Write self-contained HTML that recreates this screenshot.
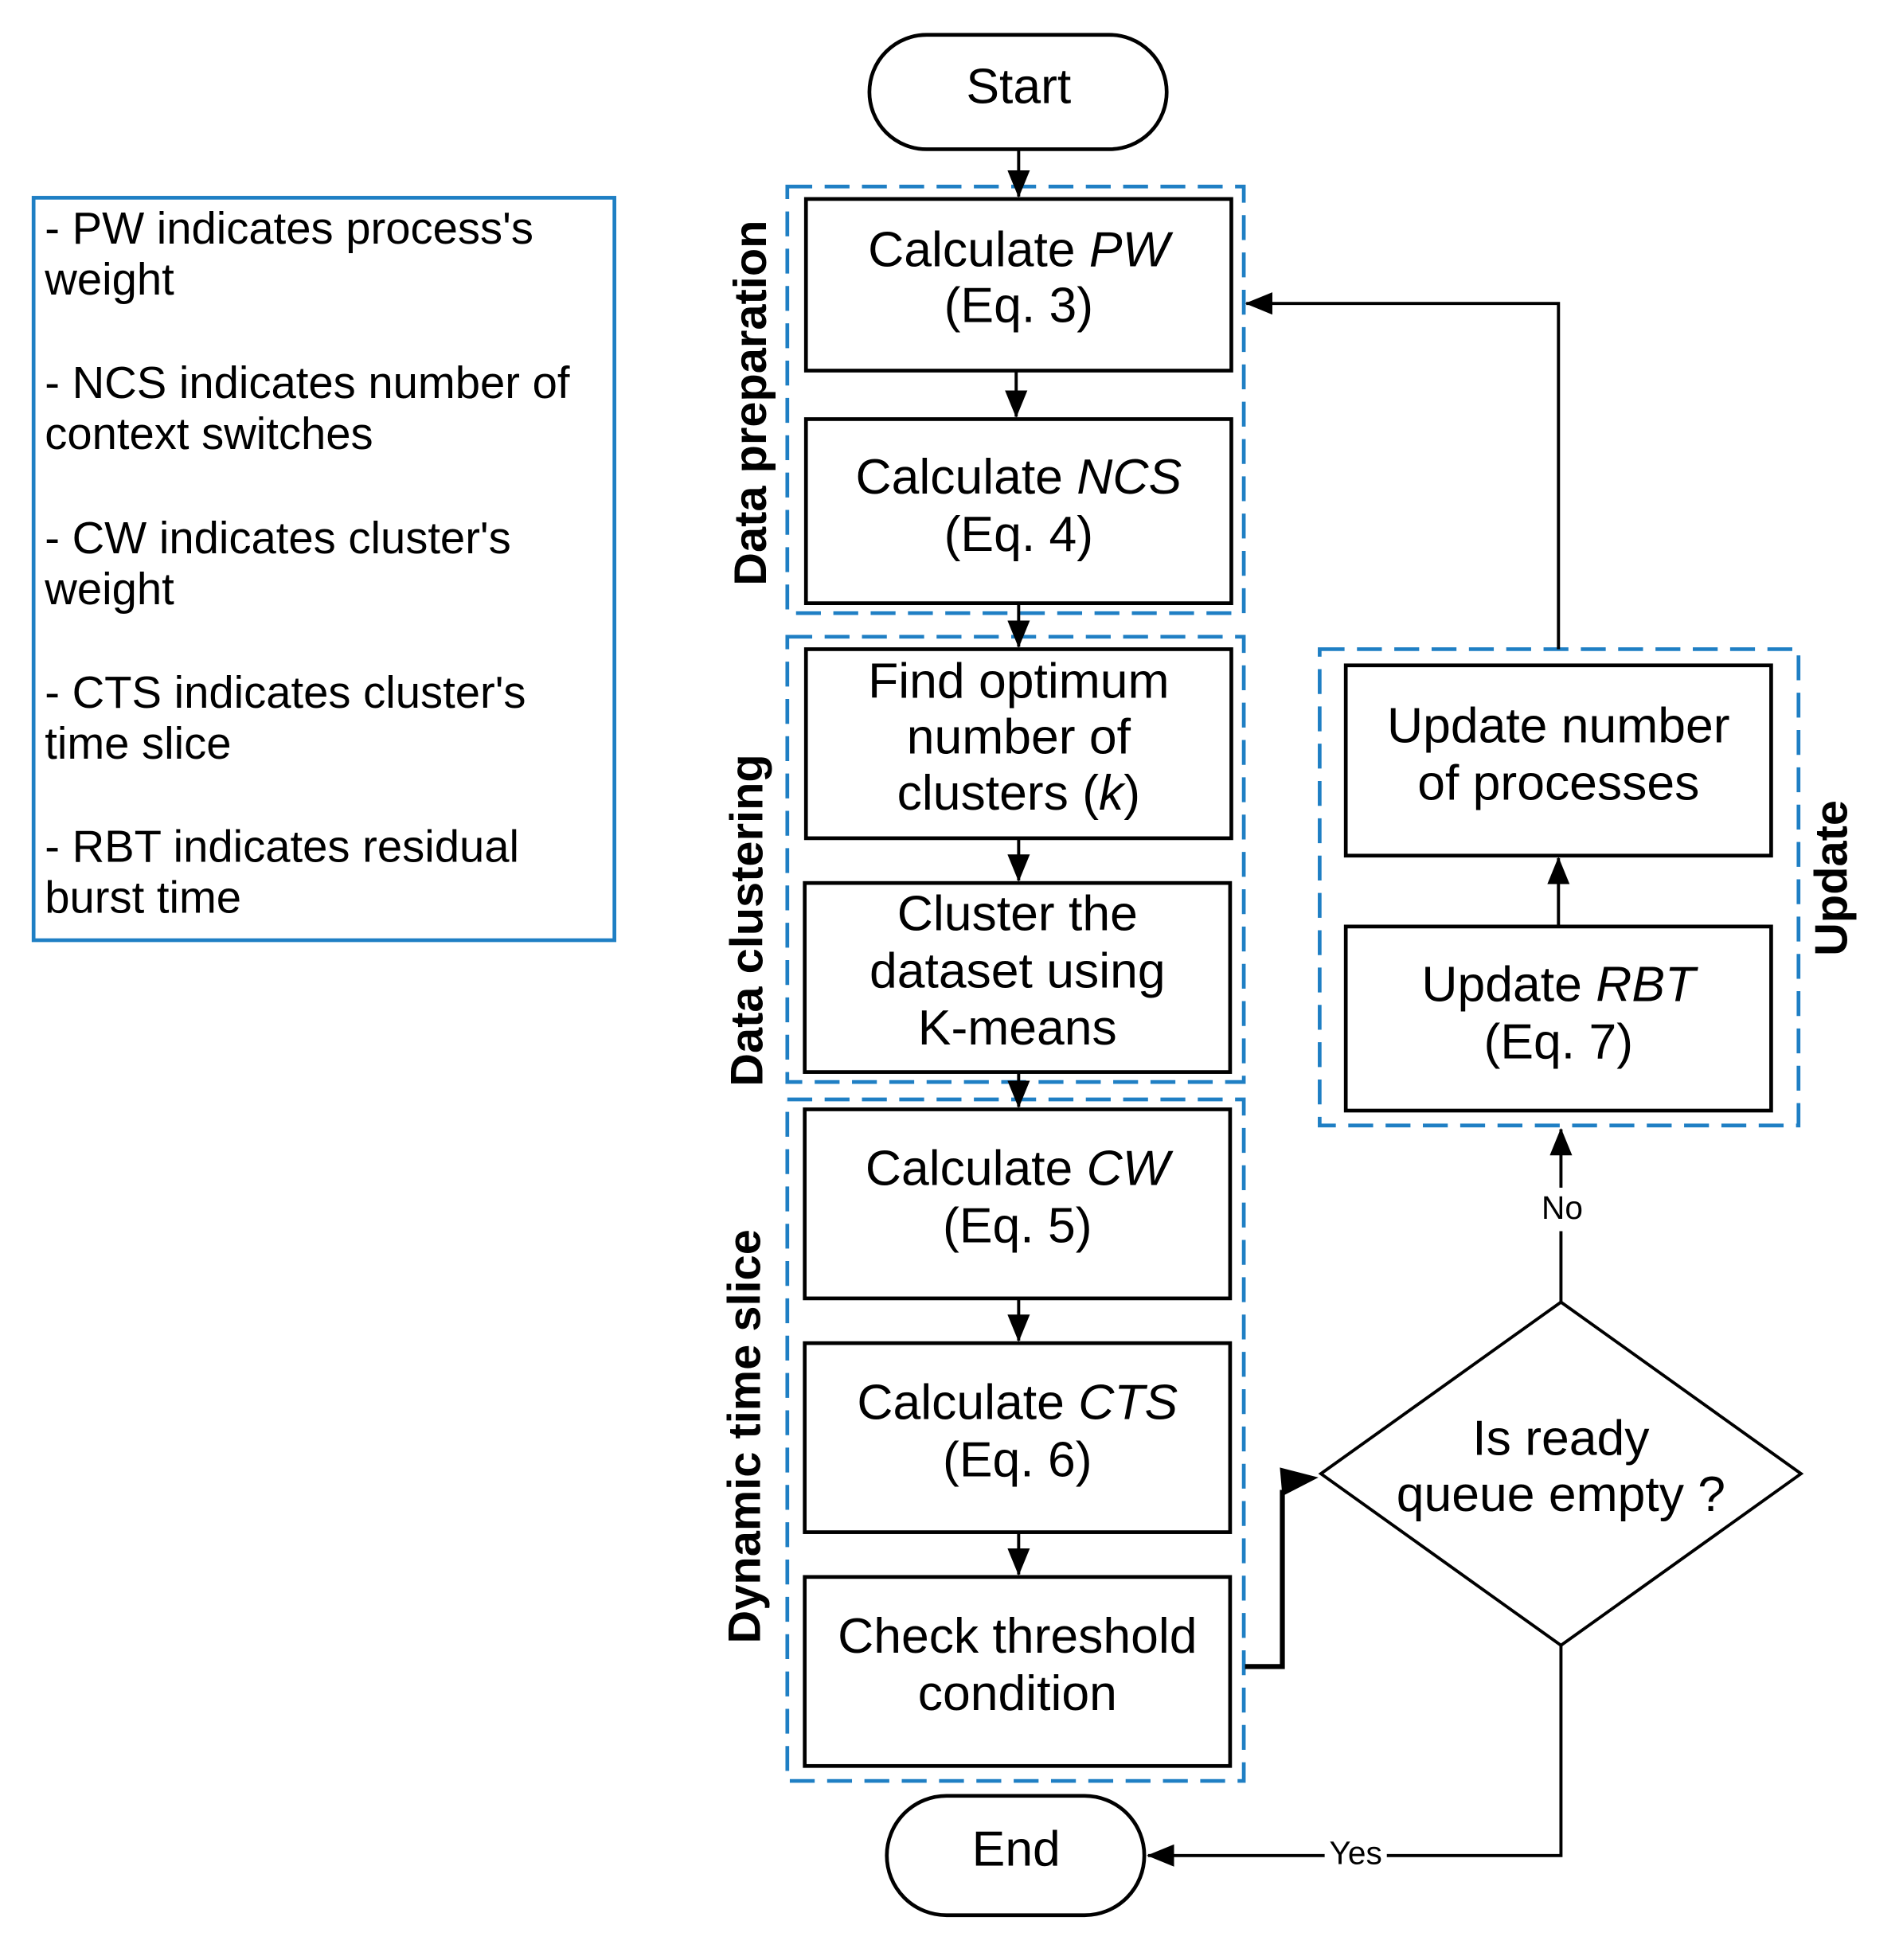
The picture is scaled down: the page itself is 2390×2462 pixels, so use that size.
<!DOCTYPE html>
<html><head><meta charset="utf-8"><style>
html,body{margin:0;padding:0;background:#fff;}
svg{display:block;}
text{font-family:"Liberation Sans",Arial,sans-serif;fill:#000;}
.n{font-size:40px;text-anchor:middle;}
.l{font-size:36px;}
.r{font-size:37px;font-weight:bold;text-anchor:middle;}
.b{fill:#fff;stroke:#000;stroke-width:3;}
.d{fill:none;stroke:#1f7fc4;stroke-width:3;stroke-dasharray:20,10;}
.c{fill:none;stroke:#000;stroke-width:2.5;}
</style></head><body>
<svg width="2390" height="2462" viewBox="0 0 1530 1576" preserveAspectRatio="none" xmlns="http://www.w3.org/2000/svg">
<defs>
<marker id="m" markerWidth="22" markerHeight="18" refX="21" refY="9" orient="auto" markerUnits="userSpaceOnUse"><path d="M0,0 L22,9 L0,18 z" fill="#000"/></marker></defs>

<!-- legend -->
<rect x="27" y="159" width="467" height="597" fill="none" stroke="#1f7fc4" stroke-width="3"/>
<g class="l">
<text x="36" y="196">- PW indicates process's</text>
<text x="36" y="237">weight</text>
<text x="36" y="320">- NCS indicates number of</text>
<text x="36" y="361">context switches</text>
<text x="36" y="445">- CW indicates cluster's</text>
<text x="36" y="486">weight</text>
<text x="36" y="569">- CTS indicates cluster's</text>
<text x="36" y="610">time slice</text>
<text x="36" y="693">- RBT indicates residual</text>
<text x="36" y="734">burst time</text>
</g>

<!-- dashed groups -->
<rect class="d" x="633" y="150" width="367" height="343"/>
<rect class="d" x="633" y="512" width="367" height="358"/>
<rect class="d" x="633" y="884" width="367" height="548"/>
<rect class="d" x="1061" y="522" width="385" height="383"/>

<text class="r" transform="translate(616,324) rotate(-90)">Data preparation</text>
<text class="r" transform="translate(613,740) rotate(-90)">Data clustering</text>
<text class="r" transform="translate(611,1155) rotate(-90)">Dynamic time slice</text>
<text class="r" transform="translate(1485,706) rotate(-90)">Update</text>

<!-- connectors -->
<line class="c" x1="819" y1="120" x2="819" y2="158" marker-end="url(#m)"/>
<line class="c" x1="817" y1="298" x2="817" y2="335" marker-end="url(#m)"/>
<line class="c" x1="819" y1="485" x2="819" y2="520" marker-end="url(#m)"/>
<line class="c" x1="819" y1="674" x2="819" y2="708" marker-end="url(#m)"/>
<line class="c" x1="819" y1="862" x2="819" y2="890" marker-end="url(#m)"/>
<line class="c" x1="819" y1="1044" x2="819" y2="1078" marker-end="url(#m)"/>
<line class="c" x1="819" y1="1232" x2="819" y2="1266" marker-end="url(#m)"/>
<polyline class="c" points="1253,522 1253,244 1002,244" marker-end="url(#m)"/>
<line class="c" x1="1253" y1="745" x2="1253" y2="690" marker-end="url(#m)"/>
<polyline class="c" points="1255,1047 1255,990"/>
<line class="c" x1="1255" y1="955" x2="1255" y2="908" marker-end="url(#m)"/>
<text x="1256" y="980" font-size="26" text-anchor="middle">No</text>
<polyline class="c" points="1255,1323 1255,1492 1115,1492"/>
<line class="c" x1="1065" y1="1492" x2="923" y2="1492" marker-end="url(#m)"/>
<text x="1090" y="1499" font-size="26" text-anchor="middle">Yes</text>
<polyline fill="none" stroke="#000" stroke-width="4" points="1001,1340 1031,1340 1031,1198"/>
<path d="M1029,1180 L1060,1188 L1031,1203 z" fill="#000"/>

<!-- nodes -->
<rect class="b" x="699" y="28" width="239" height="92" rx="46"/>
<text class="n" x="819" y="83" font-size="36">Start</text>
<rect class="b" x="713" y="1444" width="207" height="96" rx="48"/>
<text class="n" x="817" y="1500" font-size="36">End</text>

<rect class="b" x="648" y="160" width="342" height="138"/>
<text class="n" x="819" y="214">Calculate <tspan font-style="italic">PW</tspan></text>
<text class="n" x="819" y="259">(Eq. 3)</text>

<rect class="b" x="648" y="337" width="342" height="148"/>
<text class="n" x="819" y="397">Calculate <tspan font-style="italic">NCS</tspan></text>
<text class="n" x="819" y="443">(Eq. 4)</text>

<rect class="b" x="648" y="522" width="342" height="152"/>
<text class="n" x="819" y="561">Find optimum</text>
<text class="n" x="819" y="606">number of</text>
<text class="n" x="819" y="651">clusters (<tspan font-style="italic">k</tspan>)</text>

<rect class="b" x="647" y="710" width="342" height="152"/>
<text class="n" x="818" y="748">Cluster the</text>
<text class="n" x="818" y="794">dataset using</text>
<text class="n" x="818" y="840">K-means</text>

<rect class="b" x="647" y="892" width="342" height="152"/>
<text class="n" x="818" y="953">Calculate <tspan font-style="italic">CW</tspan></text>
<text class="n" x="818" y="999">(Eq. 5)</text>

<rect class="b" x="647" y="1080" width="342" height="152"/>
<text class="n" x="818" y="1141">Calculate <tspan font-style="italic">CTS</tspan></text>
<text class="n" x="818" y="1187">(Eq. 6)</text>

<rect class="b" x="647" y="1268" width="342" height="152"/>
<text class="n" x="818" y="1329">Check threshold</text>
<text class="n" x="818" y="1375">condition</text>

<rect class="b" x="1082" y="535" width="342" height="153"/>
<text class="n" x="1253" y="597">Update number</text>
<text class="n" x="1253" y="643">of processes</text>

<rect class="b" x="1082" y="745" width="342" height="148"/>
<text class="n" x="1253" y="805">Update <tspan font-style="italic">RBT</tspan></text>
<text class="n" x="1253" y="851">(Eq. 7)</text>

<polygon points="1255,1047 1448,1185 1255,1323 1062,1185" fill="#fff" stroke="#000" stroke-width="2.5"/>
<text class="n" x="1255" y="1170">Is ready</text>
<text class="n" x="1255" y="1215">queue empty ?</text>
</svg>
</body></html>
